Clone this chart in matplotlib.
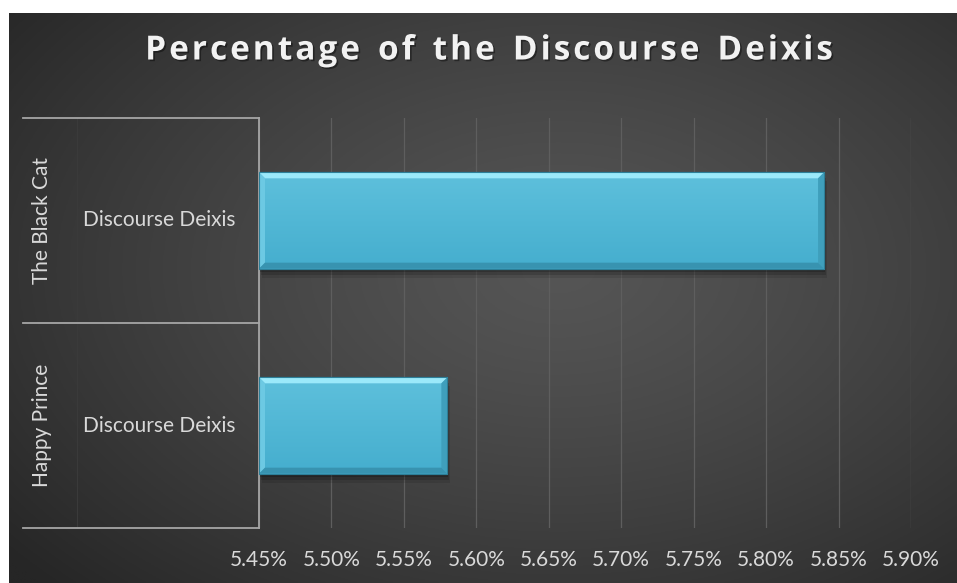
import numpy as np
import matplotlib
matplotlib.use("Agg")
import matplotlib.pyplot as plt
from matplotlib.patches import Polygon, Rectangle
import matplotlib.transforms as mtransforms
import matplotlib.patheffects as pe

# datos del grafico
stories = ["Happy Prince", "The Black Cat"]
sub_label = "Discourse Deixis"
values = [0.0558, 0.0584]
x_ticks = [0.0545, 0.0550, 0.0555, 0.0560, 0.0565, 0.0570, 0.0575, 0.0580, 0.0585, 0.0590]
title = "Percentage of the Discourse Deixis"

W, H = 957, 583
fig = plt.figure(figsize=(W / 100, H / 100), dpi=100, facecolor="white")

# fondo con degradado radial
bg = fig.add_axes([9 / W, 0, 1 - 9 / W, 1 - 13 / H])
bg.set_axis_off()
gx, gy = np.meshgrid(np.linspace(0, 1, 400), np.linspace(0, 1, 250))
r = np.sqrt(((gx - 0.58) / 0.75) ** 2 + ((gy - 0.55) / 0.8) ** 2)
r = np.clip(r, 0, 1)
inner, outer = 0x55, 0x26
g = (inner + (outer - inner) * r ** 1.3) / 255
bg.imshow(np.dstack([g, g, g]), extent=[0, 1, 0, 1], aspect="auto", origin="lower")
bg.set_xlim(0, 1)
bg.set_ylim(0, 1)

# ejes principales
left, right, top, bottom = 259, 911, 118, 528
ax = fig.add_axes([left / W, 1 - bottom / H, (right - left) / W, (bottom - top) / H])
ax.patch.set_alpha(0)
ax.set_xlim(x_ticks[0], x_ticks[-1])
ax.set_ylim(-0.5, len(stories) - 0.5)
ax.set_xticks(x_ticks)
ax.set_xticklabels(["%.2f%%" % (t * 100) for t in x_ticks], fontfamily="Lato",
                   fontsize=15, color="#d9d9d9")
ax.tick_params(axis="x", length=0, pad=16)
ax.set_yticks([])
for s in ["top", "right", "bottom"]:
    ax.spines[s].set_visible(False)
ax.spines["left"].set_color("#a6a6a6")
ax.spines["left"].set_linewidth(1.3)
ax.grid(axis="x", color="#5e5e5e", linewidth=0.9)
ax.set_axisbelow(True)

bar_h = 0.47
fig.canvas.draw()
inv = ax.transData.inverted()
px = abs(inv.transform((6, 0))[0] - inv.transform((0, 0))[0])
py = abs(inv.transform((0, 6))[1] - inv.transform((0, 0))[1])
sx = abs(inv.transform((3, 0))[0] - inv.transform((0, 0))[0])
sy = abs(inv.transform((0, 3))[1] - inv.transform((0, 0))[1])

x0 = x_ticks[0]
bars = ax.barh(range(len(stories)), [v - x0 for v in values], left=x0, height=bar_h,
               color="#4db7d5", edgecolor="#2d7f98", linewidth=0.8, zorder=3)

grad = np.linspace(0, 1, 100)[:, None]
cmap = matplotlib.colors.LinearSegmentedColormap.from_list(
    "face", ["#45aece", "#5ec0dc"])
for b in bars:
    bx, by, bw, bh = b.get_x(), b.get_y(), b.get_width(), b.get_height()
    # sombra
    for k, a in [(1.0, 0.2), (2.0, 0.15), (3.0, 0.1)]:
        ax.add_patch(Rectangle((bx + sx * k / 3, by - sy * k), bw, bh, color="black",
                               alpha=a, zorder=2, linewidth=0))
    im = ax.imshow(grad, extent=[bx, bx + bw, by, by + bh], origin="lower",
                   cmap=cmap, aspect="auto", zorder=3.5)
    im.set_clip_path(b)
    X1, Y1 = bx + bw, by + bh
    bevels = [
        ([(bx, Y1), (X1, Y1), (X1 - px, Y1 - py), (bx + px, Y1 - py)], "#9be9fa"),
        ([(bx, by), (bx, Y1), (bx + px, Y1 - py), (bx + px, by + py)], "#6cc9e3"),
        ([(X1, by), (X1, Y1), (X1 - px, Y1 - py), (X1 - px, by + py)], "#3f9fbc"),
        ([(bx, by), (X1, by), (X1 - px, by + py), (bx + px, by + py)], "#3893b0"),
    ]
    for pts, c in bevels:
        ax.add_patch(Polygon(pts, closed=True, color=c, linewidth=0, zorder=4))
    ax.add_patch(Rectangle((bx, by), bw, bh, fill=False, edgecolor="#2d7f98",
                           linewidth=0.8, zorder=5))
ax.set_xlim(x_ticks[0], x_ticks[-1])
ax.set_ylim(-0.5, len(stories) - 0.5)

# etiquetas de categoria con corchetes
trans = mtransforms.blended_transform_factory(ax.transAxes, ax.transData)
lx = (23 - left) / (right - left)
mx = (77 - left) / (right - left)
for yb in np.arange(-0.5, len(stories), 1.0):
    ax.plot([lx, 0], [yb, yb], transform=trans, color="#a6a6a6", lw=1.3,
            clip_on=False, zorder=6)
ax.plot([mx, mx], [-0.5, len(stories) - 0.5], transform=trans, color="#3a3a3a",
        lw=0.8, clip_on=False)
for i, name in enumerate(stories):
    ax.text((42 - left) / (right - left), i, name, transform=trans, rotation=90,
            ha="center", va="center", fontsize=15, color="#d9d9d9", fontfamily="Lato")
    ax.text((159 - left) / (right - left), i, sub_label, transform=trans,
            ha="center", va="center", fontsize=15, color="#d9d9d9", fontfamily="Lato")

# titulo con espaciado entre letras
fig.canvas.draw()
renderer = fig.canvas.get_renderer()
spacing = 3.0
widths = []
for ch in title:
    t = fig.text(0, 0, ch if ch != " " else "n", fontsize=24, fontweight="bold",
                 fontfamily="Open Sans")
    bb = t.get_window_extent(renderer)
    widths.append(bb.width * (0.55 if ch == " " else 1.0))
    t.remove()
total = sum(widths) + spacing * (len(title) - 1)
xpos = 489 - total / 2
for ch, w in zip(title, widths):
    if ch != " ":
        fig.text(xpos / W, 1 - 51 / H, ch, ha="left", va="center", fontsize=24,
                 fontweight="bold", color="#f2f2f2", fontfamily="Open Sans",
                 path_effects=[pe.withSimplePatchShadow(offset=(1.2, -1.2),
                                                        shadow_rgbFace="black",
                                                        alpha=0.4)])
    xpos += w + spacing

fig.savefig("out.png", dpi=100, facecolor="white")
